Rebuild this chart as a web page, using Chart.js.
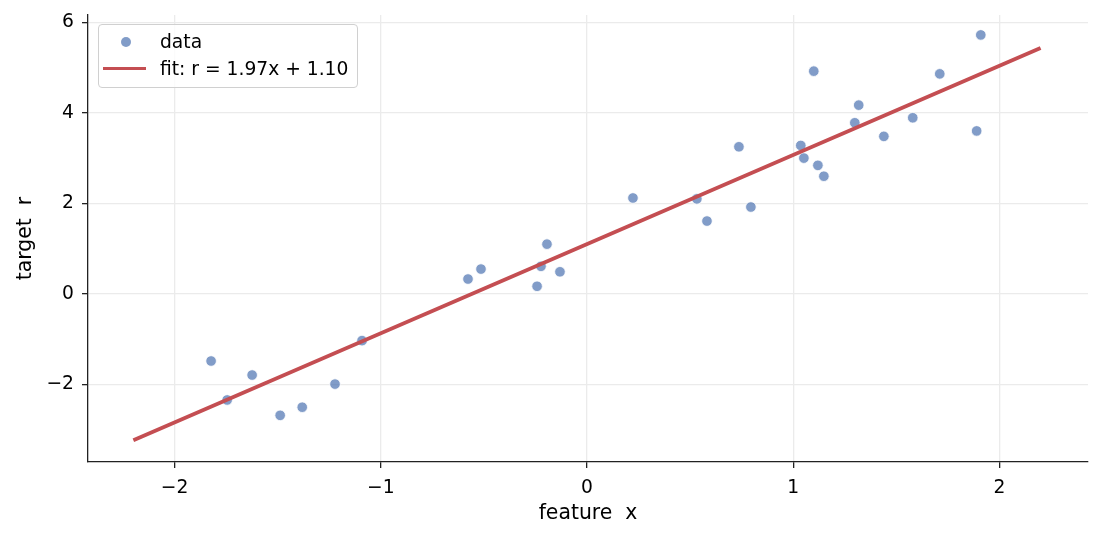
<!DOCTYPE html>
<html>
<head>
<meta charset="utf-8">
<script src="https://cdn.jsdelivr.net/npm/chart.js@4.4.1/dist/chart.umd.min.js"></script>
<style>
  html, body { margin: 0; padding: 0; background: #fff; }
  #wrap { position: relative; width: 1101px; height: 541px; }
  #legend {
    position: absolute; left: 98px; top: 24px; width: 258px; height: 62px;
    border: 1px solid #d0d0d0; border-radius: 4px; background: rgba(255,255,255,0.8);
    font-family: "DejaVu Sans", sans-serif; font-size: 18.7px; color: #000;
  }
  .row { position: absolute; left: 0; height: 22px; line-height: 22px; }
  .row span { position: absolute; left: 61px; white-space: pre; }
  .dot { position: absolute; left: 22px; top: 6px; width: 10px; height: 10px; border-radius: 50%;
         background: rgba(76,114,176,0.7); }
  .ln { position: absolute; left: 4px; top: 9px; width: 43px; height: 3px; background: #C44E52; }
</style>
</head>
<body>
<div id="wrap">
  <canvas id="chart" width="1101" height="541"></canvas>
  <div id="legend">
    <div class="row" style="top:6px"><div class="dot"></div><span>data</span></div>
    <div class="row" style="top:33px"><div class="ln"></div><span>fit: r = 1.97x + 1.10</span></div>
  </div>
</div>
<script>
// scatter points
const dataX = [-1.823, -1.745, -1.624, -1.488, -1.381, -1.222, -1.091,
  -0.577, -0.514, -0.242, -0.223, -0.194, -0.131, 0.223, 0.533, 0.582,
  0.737, 0.795, 1.037, 1.052, 1.100, 1.120, 1.149, 1.299, 1.318, 1.440,
  1.580, 1.711, 1.890, 1.910];
const dataY = [-1.48, -2.34, -1.79, -2.68, -2.50, -1.99, -1.03,
  0.33, 0.55, 0.17, 0.61, 1.10, 0.49, 2.12, 2.10, 1.61,
  3.25, 1.92, 3.28, 3.00, 4.92, 2.84, 2.60, 3.78, 4.17, 3.48,
  3.89, 4.86, 3.60, 5.72];

// fitted line end points
const fitX = [-2.2, 2.2];
const fitY = [-3.23, 5.43];

const xTicks = [-2, -1, 0, 1, 2];
const yTicks = [-2, 0, 2, 4, 6];

const tickFont = { family: "DejaVu Sans", size: 18.7 };
const titleFont = { family: "DejaVu Sans", size: 20.4 };
const minus = v => String(v).replace("-", "\u2212");

new Chart(document.getElementById("chart").getContext("2d"), {
  data: {
    datasets: [
      {
        type: "line",
        label: "fit: r = 1.97x + 1.10",
        data: fitX.map((x, i) => ({ x: x, y: fitY[i] })),
        borderColor: "#C44E52",
        borderWidth: 3.8,
        pointRadius: 0,
        fill: false,
        order: 0
      },
      {
        type: "scatter",
        label: "data",
        data: dataX.map((x, i) => ({ x: x, y: dataY[i] })),
        backgroundColor: "rgba(76,114,176,0.7)",
        borderColor: "rgba(255,255,255,0.8)",
        borderWidth: 1,
        pointRadius: 5.3,
        order: 1
      }
    ]
  },
  options: {
    responsive: false,
    animation: false,
    devicePixelRatio: 1,
    layout: { padding: { left: 0, right: 13, top: 15, bottom: 0 } },
    plugins: { legend: { display: false }, tooltip: { enabled: false } },
    scales: {
      x: {
        type: "linear",
        min: -2.42,
        max: 2.43,
        afterFit: s => { s.height = 79; s.paddingLeft = 0; s.paddingRight = 0; },
        afterBuildTicks: s => { s.ticks = xTicks.map(v => ({ value: v })); },
        ticks: { font: tickFont, color: "#000", padding: 9, callback: minus },
        grid: { color: "#ebebeb", lineWidth: 1.3, tickColor: "#222", tickLength: 6 },
        border: { color: "#222", width: 1.3 },
        title: { display: true, text: "feature  x", font: titleFont, color: "#000", padding: { top: 0, bottom: 15 } }
      },
      y: {
        type: "linear",
        min: -3.71,
        max: 6.16,
        afterFit: s => { s.width = 88; s.paddingTop = 0; s.paddingBottom = 0; },
        afterBuildTicks: s => { s.ticks = yTicks.map(v => ({ value: v })); },
        ticks: { font: tickFont, color: "#000", padding: 8, callback: minus },
        grid: { color: "#ebebeb", lineWidth: 1.3, tickColor: "#222", tickLength: 6 },
        border: { color: "#222", width: 1.3 },
        title: { display: true, text: "target  r", font: titleFont, color: "#000", padding: { top: 13, bottom: 0 } }
      }
    }
  }
});
</script>
</body>
</html>
